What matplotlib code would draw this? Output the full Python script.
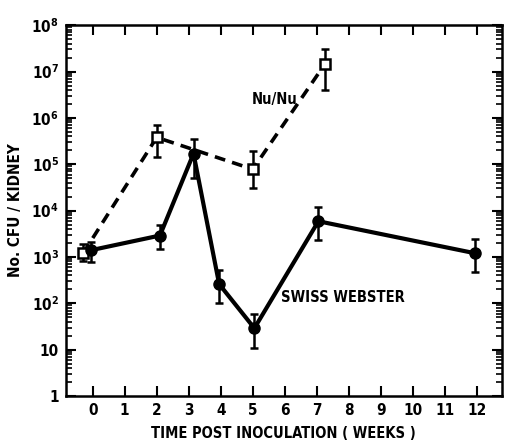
import matplotlib
matplotlib.use("Agg")
import matplotlib.pyplot as plt
from matplotlib.ticker import FixedLocator, LogLocator, NullFormatter

plt.rcParams["font.family"] = ["DejaVu Sans"]
plt.rcParams["font.stretch"] = "condensed"
plt.rcParams["font.weight"] = "bold"
plt.rcParams["mathtext.fontset"] = "custom"
plt.rcParams["mathtext.rm"] = "DejaVu Sans:bold"
plt.rcParams["mathtext.default"] = "rm"

# Swiss Webster (solid line, filled circles)
sw_weeks = [-0.05, 2.1, 3.15, 3.95, 5.05, 7.05, 11.95]
sw_cfu = [1.4e3, 2.9e3, 1.7e5, 2.6e2, 2.9e1, 5.9e3, 1.2e3]
sw_hi = [2.1e3, 5.0e3, 3.5e5, 5.2e2, 5.9e1, 1.2e4, 2.5e3]
sw_lo = [7.7e2, 1.5e3, 5.0e4, 1.0e2, 1.1e1, 2.3e3, 4.7e2]

# Nu/Nu (dashed line, open squares)
nu_weeks = [-0.3, 2.0, 5.0, 7.25]
nu_cfu = [1.2e3, 3.8e5, 7.8e4, 1.44e7]
nu_hi = [1.9e3, 7.2e5, 1.9e5, 3.0e7]
nu_lo = [8.0e2, 1.4e5, 3.0e4, 4.0e6]

week_ticks = list(range(0, 13))
ytick_vals = [1, 10, 1e2, 1e3, 1e4, 1e5, 1e6, 1e7, 1e8]
ytick_labels = ["1", "10", "10$^{2}$", "10$^{3}$", "10$^{4}$", "10$^{5}$",
                "10$^{6}$", "10$^{7}$", "10$^{8}$"]


def errs(vals, lo, hi):
    return [[v - l for v, l in zip(vals, lo)], [h - v for v, h in zip(vals, hi)]]


fig = plt.figure(figsize=(5.1, 4.42), dpi=100)
ax = fig.add_axes([0.129, 0.104, 0.855, 0.839])

ax.errorbar(nu_weeks, nu_cfu, yerr=errs(nu_cfu, nu_lo, nu_hi), color="black",
            lw=2.6, ls=(0, (3, 2)), marker="s", ms=6.5, mfc="white",
            mec="black", mew=1.8, ecolor="black", elinewidth=1.8, capsize=3,
            capthick=1.8, zorder=3)
ax.errorbar(sw_weeks, sw_cfu, yerr=errs(sw_cfu, sw_lo, sw_hi), color="black",
            lw=3, marker="o", ms=8, mfc="black", mec="black",
            ecolor="black", elinewidth=1.8, capsize=3, capthick=1.8, zorder=4)

ax.set_yscale("log")
ax.set_xlim(-0.84, 12.78)
ax.set_ylim(1, 1e8)

ax.xaxis.set_major_locator(FixedLocator(week_ticks))
ax.set_xticklabels([str(w) for w in week_ticks], fontsize=11)
ax.yaxis.set_major_locator(FixedLocator(ytick_vals))
ax.set_yticklabels(ytick_labels, fontsize=11)
ax.yaxis.set_minor_locator(LogLocator(base=10, subs=range(2, 10), numticks=20))
ax.yaxis.set_minor_formatter(NullFormatter())

ax.tick_params(axis="both", which="major", direction="in", length=7, width=1.5,
               top=True, right=True, pad=5)
ax.tick_params(axis="y", which="minor", direction="in", length=4, width=1.2,
               left=True, right=True)
for side in ["left", "right", "top", "bottom"]:
    ax.spines[side].set_linewidth(1.8)

ax.set_xlabel("TIME POST INOCULATION ( WEEKS )", fontsize=10.5,
              fontweight="bold", labelpad=6)
ax.set_ylabel("No. CFU / KIDNEY", fontsize=11, fontweight="bold", labelpad=6)

ax.text(5.67, 2.5e6, "Nu/Nu", fontsize=10.5, ha="center", va="center")
ax.text(7.81, 1.35e2, "SWISS WEBSTER", fontsize=10.5, ha="center", va="center")

fig.savefig("out.png", dpi=100)
